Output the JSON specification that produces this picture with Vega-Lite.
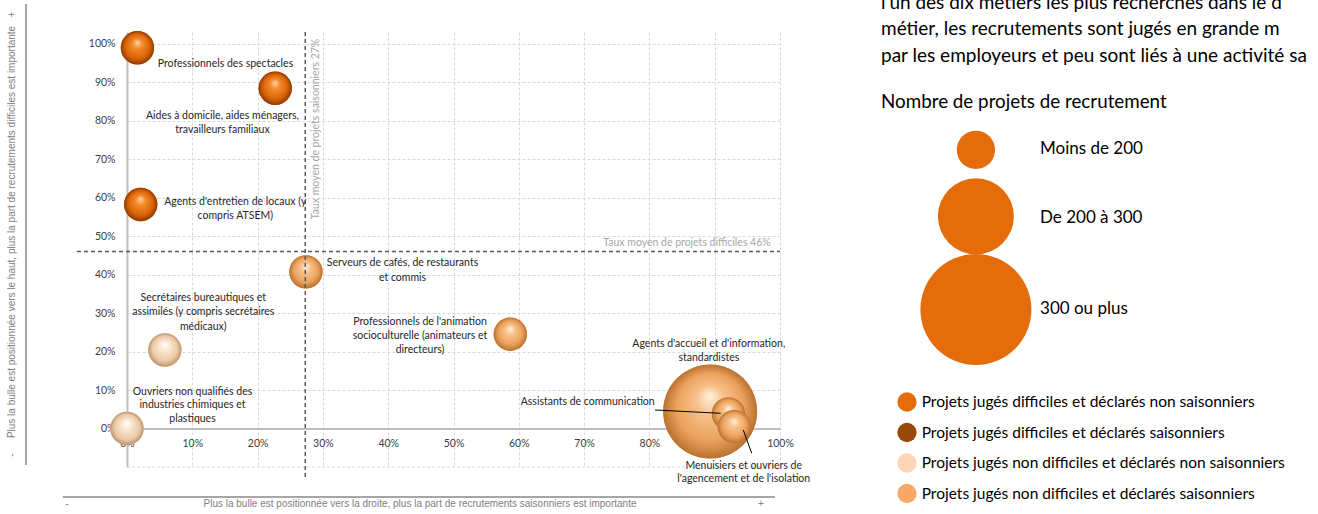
{
  "$schema": "https://vega.github.io/schema/vega-lite/v6.json",
  "autosize": {"type": "none"},
  "padding": {"left": 127, "top": 32, "right": 538, "bottom": 47},
  "width": 653,
  "height": 435,
  "background": "white",
  "config": {"view": {"stroke": null}, "font": "Lato", "text": {"font": "Lato"}, "axis": {"labelOverlap": false}},
  "data": {
    "values": [
      {"id": "spectacles", "metier": "Professionnels des spectacles", "etiquette": "Professionnels des spectacles", "saisonniers": 0.016, "difficiles": 0.989, "categorie": "Projets jugés difficiles et déclarés non saisonniers", "taille": "Moins de 200"},
      {"id": "aides", "metier": "Aides à domicile, aides ménagers, travailleurs familiaux", "etiquette": "Aides à domicile, aides ménagers,\ntravailleurs familiaux", "saisonniers": 0.227, "difficiles": 0.884, "categorie": "Projets jugés difficiles et déclarés non saisonniers", "taille": "Moins de 200"},
      {"id": "entretien", "metier": "Agents d'entretien de locaux (y compris ATSEM)", "etiquette": "Agents d'entretien de locaux (y\ncompris ATSEM)", "saisonniers": 0.021, "difficiles": 0.582, "categorie": "Projets jugés difficiles et déclarés non saisonniers", "taille": "Moins de 200"},
      {"id": "serveurs", "metier": "Serveurs de cafés, de restaurants et commis", "etiquette": "Serveurs de cafés, de restaurants\net commis", "saisonniers": 0.274, "difficiles": 0.407, "categorie": "Projets jugés non difficiles et déclarés saisonniers", "taille": "Moins de 200"},
      {"id": "secretaires", "metier": "Secrétaires bureautiques et assimilés (y compris secrétaires médicaux)", "etiquette": "Secrétaires bureautiques et\nassimilés (y compris secrétaires\nmédicaux)", "saisonniers": 0.058, "difficiles": 0.204, "categorie": "Projets jugés non difficiles et déclarés non saisonniers", "taille": "Moins de 200"},
      {"id": "ouvriers", "metier": "Ouvriers non qualifiés des industries chimiques et plastiques", "etiquette": "Ouvriers non qualifiés des\nindustries chimiques et\nplastiques", "saisonniers": 0.0, "difficiles": 0.0, "categorie": "Projets jugés non difficiles et déclarés non saisonniers", "taille": "Moins de 200"},
      {"id": "animation", "metier": "Professionnels de l'animation socioculturelle (animateurs et directeurs)", "etiquette": "Professionnels de l'animation\nsocioculturelle (animateurs et\ndirecteurs)", "saisonniers": 0.587, "difficiles": 0.245, "categorie": "Projets jugés non difficiles et déclarés saisonniers", "taille": "Moins de 200"},
      {"id": "accueil", "metier": "Agents d'accueil et d'information, standardistes", "etiquette": "Agents d'accueil et d'information,\nstandardistes", "saisonniers": 0.893, "difficiles": 0.044, "categorie": "Projets jugés non difficiles et déclarés saisonniers", "taille": "300 ou plus"},
      {"id": "assistants", "metier": "Assistants de communication", "etiquette": "Assistants de communication", "saisonniers": 0.921, "difficiles": 0.038, "categorie": "Projets jugés non difficiles et déclarés saisonniers", "taille": "Moins de 200"},
      {"id": "menuisiers", "metier": "Menuisiers et ouvriers de l'agencement et de l'isolation", "etiquette": "Menuisiers et ouvriers de\nl'agencement et de l'isolation", "saisonniers": 0.93, "difficiles": 0.005, "categorie": "Projets jugés non difficiles et déclarés saisonniers", "taille": "Moins de 200"}
    ]
  },
  "layer": [
    {"data": {"values": [{}]}, "mark": {"type": "rule", "color": "#D9D9D9", "strokeWidth": 1, "strokeDash": [3, 2]}, "encoding": {"y": {"datum": -0.1}, "x": {"datum": 0}, "x2": {"datum": 1}}},
    {
      "mark": {"type": "circle", "opacity": 1, "strokeWidth": 0},
      "encoding": {
        "x": {"field": "saisonniers", "type": "quantitative", "scale": {"domain": [0, 1], "nice": false, "zero": false},
          "axis": {"values": [0, 0.1, 0.2, 0.3, 0.4, 0.5, 0.6, 0.7, 0.8, 0.9, 1], "format": ".0%", "title": null, "offset": -38.5, "ticks": false, "labelPadding": 10, "labelOverlap": false, "domainColor": "#BFBFBF", "domainWidth": 2, "grid": true, "gridColor": "#D9D9D9", "gridDash": [3, 2], "labelFont": "Lato", "labelFontSize": 10.5, "labelColor": "#404040", "labelFlush": false}},
        "y": {"field": "difficiles", "type": "quantitative", "scale": {"domain": [-0.1, 1.03], "nice": false, "zero": false},
          "axis": {"values": [0, 0.1, 0.2, 0.3, 0.4, 0.5, 0.6, 0.7, 0.8, 0.9, 1], "format": ".0%", "title": null, "ticks": false, "labelPadding": 12, "labelOverlap": false, "labelSeparation": 0, "domainColor": "#BFBFBF", "domainWidth": 2, "grid": true, "gridColor": "#D9D9D9", "gridDash": [3, 2], "labelFont": "Lato", "labelFontSize": 10.5, "labelColor": "#404040", "labelFlush": false}},
        "color": {"field": "categorie", "type": "nominal",
          "scale": {"domain": ["Projets jugés difficiles et déclarés non saisonniers", "Projets jugés difficiles et déclarés saisonniers", "Projets jugés non difficiles et déclarés non saisonniers", "Projets jugés non difficiles et déclarés saisonniers"], "range": ["#E46C0A", "#984807", "#FBD5B5", "#F8A96A"]},
          "legend": {"orient": "none", "legendX": 770, "legendY": 360, "title": null, "symbolType": "circle", "symbolSize": 372, "symbolStrokeWidth": 0, "symbolOpacity": 1, "labelFont": "Lato", "labelFontSize": 15.5, "labelColor": "#000000", "rowPadding": 10.5, "labelOffset": 4.7, "padding": 0, "labelLimit": 600}},
        "size": {"field": "taille", "type": "ordinal", "scale": {"type": "ordinal", "domain": ["Moins de 200", "De 200 à 300", "300 ou plus"], "range": [1115, 4500, 8836]}, "legend": null}
      }
    },
    {
      "transform": [{"filter": "datum.categorie === 'Projets jugés difficiles et déclarés non saisonniers'"}],
      "mark": {"type": "circle", "opacity": 1, "fill": {"gradient": "radial", "x1": 0.5, "y1": 0.33, "r1": 0, "x2": 0.5, "y2": 0.5, "r2": 0.5, "stops": [{"offset": 0, "color": "#FFD7A6"}, {"offset": 0.3, "color": "#F38A2C"}, {"offset": 0.72, "color": "#DC6508"}, {"offset": 1, "color": "#8E3B02"}]}},
      "encoding": {"x": {"field": "saisonniers", "type": "quantitative"}, "y": {"field": "difficiles", "type": "quantitative"}, "size": {"field": "taille", "type": "ordinal", "scale": {"type": "ordinal", "domain": ["Moins de 200", "De 200 à 300", "300 ou plus"], "range": [1115, 4500, 8836]}, "legend": null}}
    },
    {
      "transform": [{"filter": "datum.categorie === 'Projets jugés non difficiles et déclarés non saisonniers'"}],
      "mark": {"type": "circle", "opacity": 1, "fill": {"gradient": "radial", "x1": 0.5, "y1": 0.33, "r1": 0, "x2": 0.5, "y2": 0.5, "r2": 0.5, "stops": [{"offset": 0, "color": "#FFFFFF"}, {"offset": 0.35, "color": "#FAE3CC"}, {"offset": 0.75, "color": "#EACAA6"}, {"offset": 1, "color": "#BB9570"}]}},
      "encoding": {"x": {"field": "saisonniers", "type": "quantitative"}, "y": {"field": "difficiles", "type": "quantitative"}, "size": {"field": "taille", "type": "ordinal", "scale": {"type": "ordinal", "domain": ["Moins de 200", "De 200 à 300", "300 ou plus"], "range": [1115, 4500, 8836]}, "legend": null}}
    },
    {
      "transform": [{"filter": "datum.categorie === 'Projets jugés non difficiles et déclarés saisonniers'"}],
      "mark": {"type": "circle", "opacity": 1, "fill": {"gradient": "radial", "x1": 0.5, "y1": 0.33, "r1": 0, "x2": 0.5, "y2": 0.5, "r2": 0.5, "stops": [{"offset": 0, "color": "#FFF1DE"}, {"offset": 0.3, "color": "#F7C28C"}, {"offset": 0.72, "color": "#EBA15C"}, {"offset": 1, "color": "#B9732F"}]}},
      "encoding": {"x": {"field": "saisonniers", "type": "quantitative"}, "y": {"field": "difficiles", "type": "quantitative"}, "size": {"field": "taille", "type": "ordinal", "scale": {"type": "ordinal", "domain": ["Moins de 200", "De 200 à 300", "300 ou plus"], "range": [1115, 4500, 8836]}, "legend": null}}
    },
    {"transform": [{"filter": "datum.id === 'spectacles'"}], "mark": {"type": "text", "fontSize": 10.5, "color": "#262626", "align": "center", "baseline": "middle", "lineBreak": "\n", "lineHeight": 14}, "encoding": {"x": {"datum": 0.1508}, "y": {"datum": 0.948}, "text": {"field": "etiquette"}}},
    {"transform": [{"filter": "datum.id === 'aides'"}], "mark": {"type": "text", "fontSize": 10.5, "color": "#262626", "align": "center", "baseline": "middle", "lineBreak": "\n", "lineHeight": 14}, "encoding": {"x": {"datum": 0.1462}, "y": {"datum": 0.8126}, "text": {"field": "etiquette"}}},
    {"transform": [{"filter": "datum.id === 'entretien'"}], "mark": {"type": "text", "fontSize": 10.5, "color": "#262626", "align": "center", "baseline": "middle", "lineBreak": "\n", "lineHeight": 14}, "encoding": {"x": {"datum": 0.1658}, "y": {"datum": 0.5884}, "text": {"field": "etiquette"}}},
    {"transform": [{"filter": "datum.id === 'serveurs'"}], "mark": {"type": "text", "fontSize": 10.5, "color": "#262626", "align": "center", "baseline": "middle", "lineBreak": "\n", "lineHeight": 14.5}, "encoding": {"x": {"datum": 0.4219}, "y": {"datum": 0.4291}, "text": {"field": "etiquette"}}},
    {"transform": [{"filter": "datum.id === 'secretaires'"}], "mark": {"type": "text", "fontSize": 10.5, "color": "#262626", "align": "center", "baseline": "middle", "lineBreak": "\n", "lineHeight": 14.2}, "encoding": {"x": {"datum": 0.1168}, "y": {"datum": 0.3382}, "text": {"field": "etiquette"}}},
    {"transform": [{"filter": "datum.id === 'ouvriers'"}], "mark": {"type": "text", "fontSize": 10.5, "color": "#262626", "align": "center", "baseline": "middle", "lineBreak": "\n", "lineHeight": 13.8}, "encoding": {"x": {"datum": 0.1003}, "y": {"datum": 0.0956}, "text": {"field": "etiquette"}}},
    {"transform": [{"filter": "datum.id === 'animation'"}], "mark": {"type": "text", "fontSize": 10.5, "color": "#262626", "align": "center", "baseline": "middle", "lineBreak": "\n", "lineHeight": 14}, "encoding": {"x": {"datum": 0.4487}, "y": {"datum": 0.2767}, "text": {"field": "etiquette"}}},
    {"transform": [{"filter": "datum.id === 'accueil'"}], "mark": {"type": "text", "fontSize": 10.5, "color": "#262626", "align": "center", "baseline": "middle", "lineBreak": "\n", "lineHeight": 13.5}, "encoding": {"x": {"datum": 0.891}, "y": {"datum": 0.2187}, "text": {"field": "etiquette"}}},
    {"transform": [{"filter": "datum.id === 'assistants'"}], "mark": {"type": "text", "fontSize": 10.5, "color": "#262626", "align": "center", "baseline": "middle", "lineBreak": "\n", "lineHeight": 14}, "encoding": {"x": {"datum": 0.7055}, "y": {"datum": 0.0696}, "text": {"field": "etiquette"}}},
    {"transform": [{"filter": "datum.id === 'menuisiers'"}], "mark": {"type": "text", "fontSize": 10.5, "color": "#262626", "align": "center", "baseline": "middle", "lineBreak": "\n", "lineHeight": 13.6}, "encoding": {"x": {"datum": 0.9444}, "y": {"datum": -0.0966}, "text": {"field": "etiquette"}}},
    {"data": {"values": [{}]}, "mark": {"type": "rule", "color": "#000000", "strokeWidth": 1}, "encoding": {"x": {"datum": 0.8086}, "y": {"datum": 0.0481}, "x2": {"datum": 0.9092}, "y2": {"datum": 0.0395}}},
    {"data": {"values": [{}]}, "mark": {"type": "rule", "color": "#000000", "strokeWidth": 1}, "encoding": {"x": {"datum": 0.9438}, "y": {"datum": -0.0039}, "x2": {"datum": 0.9567}, "y2": {"datum": -0.0644}}},
    {"data": {"values": [{}]}, "mark": {"type": "rule", "color": "#595959", "strokeWidth": 1.5, "strokeDash": [4, 3]}, "encoding": {"x": {"datum": 0.273}, "y": {"datum": 1.03}, "y2": {"datum": -0.1286}}},
    {"data": {"values": [{}]}, "mark": {"type": "rule", "color": "#595959", "strokeWidth": 1.5, "strokeDash": [4, 3]}, "encoding": {"y": {"datum": 0.46}, "x": {"datum": -0.0766}, "x2": {"datum": 1.0}}},
    {"data": {"values": [{"t": "Taux moyen de projets saisonniers 27%"}]}, "mark": {"type": "text", "fontSize": 10.5, "color": "#A6A6A6", "angle": 270, "align": "center", "baseline": "middle"}, "encoding": {"x": {"datum": 0.2894}, "y": {"datum": 0.778}, "text": {"field": "t"}}},
    {"data": {"values": [{"t": "Taux moyen de projets difficiles 46%"}]}, "mark": {"type": "text", "fontSize": 10.5, "color": "#A6A6A6", "align": "right", "baseline": "middle"}, "encoding": {"x": {"datum": 0.9858}, "y": {"datum": 0.4827}, "text": {"field": "t"}}},
    {"data": {"values": [{}]}, "mark": {"type": "rule", "color": "#A6A6A6", "strokeWidth": 2}, "encoding": {"x": {"datum": -0.1547}, "y": {"datum": 1.1027}, "y2": {"datum": -0.0948}}},
    {"data": {"values": [{"t": "Plus la bulle est positionnée vers le haut, plus la part de recrutements difficiles est importante"}]}, "mark": {"type": "text", "font": "Liberation Sans", "fontSize": 10, "color": "#808080", "angle": 270, "align": "center", "baseline": "middle"}, "encoding": {"x": {"datum": -0.1761}, "y": {"datum": 0.5105}, "text": {"field": "t"}}},
    {"data": {"values": [{"t": "-"}]}, "mark": {"type": "text", "font": "Liberation Sans", "fontSize": 10, "color": "#808080", "angle": 270, "align": "center", "baseline": "middle"}, "encoding": {"x": {"datum": -0.1761}, "y": {"datum": -0.0688}, "text": {"field": "t"}}},
    {"data": {"values": [{"t": "+"}]}, "mark": {"type": "text", "font": "Liberation Sans", "fontSize": 10, "color": "#808080", "angle": 270, "align": "center", "baseline": "middle"}, "encoding": {"x": {"datum": -0.1761}, "y": {"datum": 1.075}, "text": {"field": "t"}}},
    {"data": {"values": [{}]}, "mark": {"type": "rule", "color": "#A6A6A6", "strokeWidth": 2}, "encoding": {"y": {"datum": -0.1779}, "x": {"datum": -0.098}, "x2": {"datum": 0.9923}}},
    {"data": {"values": [{"t": "Plus la bulle est positionnée vers la droite, plus la part de recrutements saisonniers est importante"}]}, "mark": {"type": "text", "font": "Liberation Sans", "fontSize": 10, "color": "#808080", "align": "center", "baseline": "middle"}, "encoding": {"x": {"datum": 0.4487}, "y": {"datum": -0.1961}, "text": {"field": "t"}}},
    {"data": {"values": [{"t": "-"}]}, "mark": {"type": "text", "font": "Liberation Sans", "fontSize": 10, "color": "#808080", "align": "center", "baseline": "middle"}, "encoding": {"x": {"datum": -0.0919}, "y": {"datum": -0.1961}, "text": {"field": "t"}}},
    {"data": {"values": [{"t": "+"}]}, "mark": {"type": "text", "font": "Liberation Sans", "fontSize": 10, "color": "#808080", "align": "center", "baseline": "middle"}, "encoding": {"x": {"datum": 0.9709}, "y": {"datum": -0.1961}, "text": {"field": "t"}}},
    {"data": {"values": [{"t": "l'un des dix métiers les plus recherchés dans le d"}]}, "mark": {"type": "text", "fontSize": 19, "color": "#000000", "align": "left", "baseline": "alphabetic"}, "encoding": {"x": {"datum": 1.1547}, "y": {"datum": 1.091}, "text": {"field": "t"}}},
    {"data": {"values": [{"t": "métier, les recrutements sont jugés en grande m"}]}, "mark": {"type": "text", "fontSize": 19, "color": "#000000", "align": "left", "baseline": "alphabetic"}, "encoding": {"x": {"datum": 1.1547}, "y": {"datum": 1.0222}, "text": {"field": "t"}}},
    {"data": {"values": [{"t": "par les employeurs et peu sont liés à une activité sa"}]}, "mark": {"type": "text", "fontSize": 19, "color": "#000000", "align": "left", "baseline": "alphabetic"}, "encoding": {"x": {"datum": 1.1547}, "y": {"datum": 0.9521}, "text": {"field": "t"}}},
    {"data": {"values": [{"t": "Nombre de projets de recrutement"}]}, "mark": {"type": "text", "fontSize": 18.8, "color": "#000000", "align": "left", "baseline": "alphabetic"}, "encoding": {"x": {"datum": 1.1547}, "y": {"datum": 0.8318}, "text": {"field": "t"}}},
    {"data": {"values": [{"taille": "Moins de 200"}]}, "mark": {"type": "circle", "size": 1467, "fill": "#E46C0A", "opacity": 1}, "encoding": {"x": {"datum": 1.3}, "y": {"datum": 0.7239}}},
    {"data": {"values": [{"taille": "De 200 à 300"}]}, "mark": {"type": "circle", "size": 5776, "fill": "#E46C0A", "opacity": 1}, "encoding": {"x": {"datum": 1.3}, "y": {"datum": 0.5512}}},
    {"data": {"values": [{"taille": "300 ou plus"}]}, "mark": {"type": "circle", "size": 12321, "fill": "#E46C0A", "opacity": 1}, "encoding": {"x": {"datum": 1.3}, "y": {"datum": 0.3091}}},
    {"data": {"values": [{"taille": "Moins de 200"}]}, "mark": {"type": "text", "fontSize": 17, "color": "#000000", "align": "left", "baseline": "middle"}, "encoding": {"x": {"datum": 1.3982}, "y": {"datum": 0.7253}, "text": {"field": "taille"}}},
    {"data": {"values": [{"taille": "De 200 à 300"}]}, "mark": {"type": "text", "fontSize": 17, "color": "#000000", "align": "left", "baseline": "middle"}, "encoding": {"x": {"datum": 1.3982}, "y": {"datum": 0.546}, "text": {"field": "taille"}}},
    {"data": {"values": [{"taille": "300 ou plus"}]}, "mark": {"type": "text", "fontSize": 17, "color": "#000000", "align": "left", "baseline": "middle"}, "encoding": {"x": {"datum": 1.3982}, "y": {"datum": 0.3096}, "text": {"field": "taille"}}}
  ]
}
